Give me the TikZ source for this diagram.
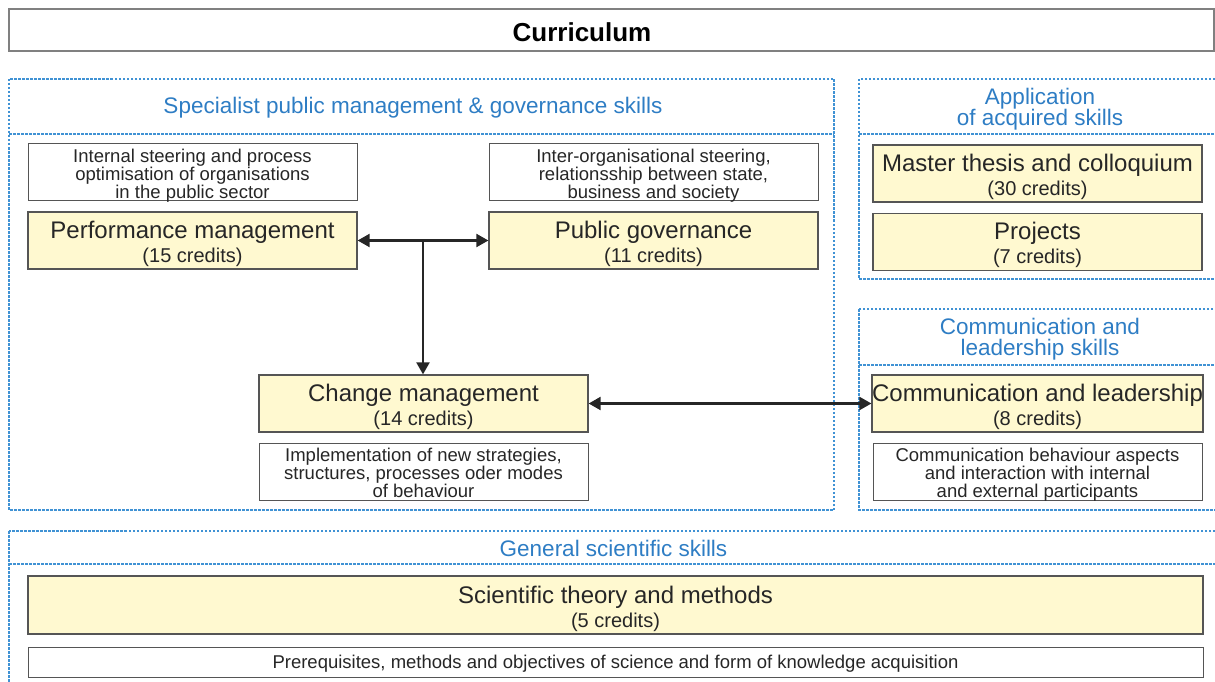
\documentclass[tikz,border=0pt]{standalone}
\usepackage{fontspec}
\setmainfont{Liberation Sans}
\usetikzlibrary{positioning,arrows.meta,calc}
\definecolor{modfill}{RGB}{255,249,208}
\definecolor{sectblue}{RGB}{64,146,212}
\definecolor{hdrblue}{RGB}{46,125,196}
\definecolor{boxgray}{RGB}{85,85,85}

\begin{document}
\begin{tikzpicture}[x=1pt,y=-1pt]
\tikzstyle{sect}=[draw=sectblue, dash pattern=on 2.5pt off 1.5pt, line width=1.1pt]
\tikzstyle{hdr}=[text=hdrblue, font=\fontsize{22.5}{21.5}\selectfont, align=center, inner sep=0]
\tikzstyle{mod}=[draw=boxgray, fill=modfill, line width=1.3pt, minimum width=329pt, minimum height=57pt, inner sep=0, align=center, text=black!85, font=\fontsize{20}{24}\selectfont, text height=44pt, text depth=0pt]
\tikzstyle{desc}=[draw=boxgray, line width=1pt, minimum width=329pt, minimum height=57pt, inner sep=0, align=center, text=black!85, font=\fontsize{18.5}{18}\selectfont, text height=52pt, text depth=0pt]
\tikzstyle{link}=[line width=2.2pt, black!85, {Triangle[length=12pt,width=13pt]}-{Triangle[length=12pt,width=13pt]}]

\useasboundingbox (0,0) rectangle (1215,682);
\clip (0,0) rectangle (1215,682);

% title
\node[draw=gray, line width=1.5pt, minimum width=1205pt, minimum height=42pt, inner sep=0] (titlebox) at (611.5,30) {};
\node[font=\bfseries\fontsize{26}{26}\selectfont, inner sep=0] (title) at (582,32) {Curriculum};

% sections
\draw[sect] (9,79) rectangle (834,510) (9,134) -- (834,134);
\draw[sect] (859,79) rectangle (1225,279) (859,134) -- (1225,134);
\draw[sect] (859,309) rectangle (1225,510) (859,365) -- (1225,365);
\draw[sect] (9,531) rectangle (1225,700) (9,564) -- (1225,564);
\node[hdr] (spec) at (413,108) {Specialist public management \& governance skills};
\node[hdr] (appl) at (1040,109) {Application\\of acquired skills};
\node[hdr] (comm) at (1040,339) {Communication and\\leadership skills};
\node[hdr] (gen) at (613.5,548) {General scientific skills};

% modules
\node[mod] (pm) at (192.5,240.5) {{\fontsize{24}{24}\selectfont Performance management}\\(15 credits)};
\node[desc, above=10pt of pm] (pmdesc) {Internal steering and process\\optimisation of organisations\\in the public sector};
\node[mod] (pg) at (653.5,240.5) {{\fontsize{24}{24}\selectfont Public governance}\\(11 credits)};
\node[desc, above=10pt of pg] (pgdesc) {Inter-organisational steering,\\relationsship between state,\\business and society};
\node[mod] (cm) at (423.5,403.5) {{\fontsize{24}{24}\selectfont Change management}\\(14 credits)};
\node[desc, below=10pt of cm] (cmdesc) {Implementation of new strategies,\\structures, processes oder modes\\of behaviour};
\node[mod] (mt) at (1037.5,173.5) {{\fontsize{24}{24}\selectfont Master thesis and colloquium}\\(30 credits)};
\node[mod, below=10pt of mt] (proj) {{\fontsize{24}{24}\selectfont Projects}\\(7 credits)};
\node[mod] (cl) at (1037.5,403.5) {{\fontsize{24}{24}\selectfont Communication and leadership}\\(8 credits)};
\node[desc, below=10pt of cl] (cldesc) {Communication behaviour aspects\\and interaction with internal\\and external participants};
\node[mod, minimum width=1175pt, minimum height=58pt] (sci) at (615.5,605) {{\fontsize{24}{24}\selectfont Scientific theory and methods}\\(5 credits)};
\node[desc, minimum width=1175pt, minimum height=30pt, below=12pt of sci, text height=13.2pt] (scidesc) {Prerequisites, methods and objectives of science and form of knowledge acquisition};

% links
\coordinate (mid) at ($(pm.east)!0.5!(pg.west)$);
\draw[link] (pm) -- (pg);
\draw[line width=2.2pt, black!85, -{Triangle[length=12pt,width=13pt]}] (mid) -- (mid |- cm.north);
\draw[link] (cm) -- (cl);
\end{tikzpicture}
\end{document}
